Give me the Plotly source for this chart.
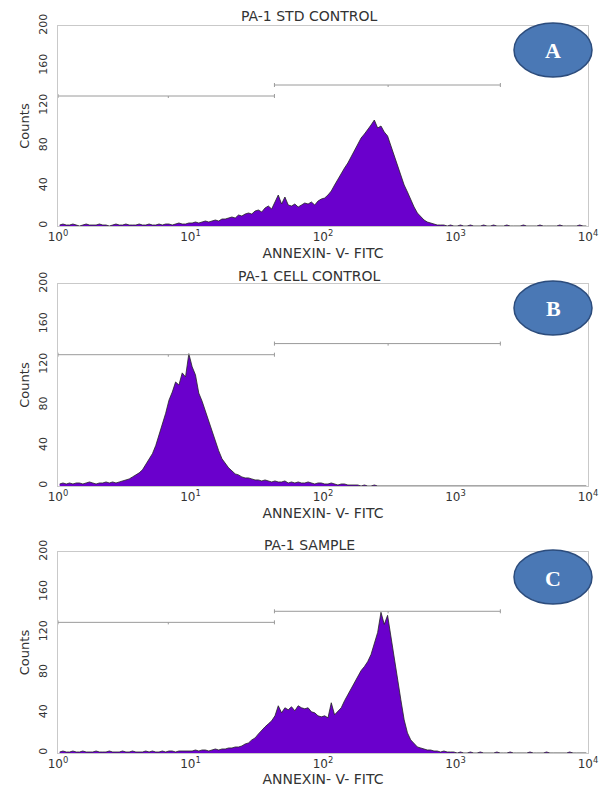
import plotly.graph_objects as go

# ---------------- data ----------------
BIN_WIDTH_DECADES = 0.025          # histogram channel width in log10 units
N_BINS = 160                        # 10^0 .. 10^4

panel_titles = ["PA-1 STD CONTROL", "PA-1 CELL CONTROL", "PA-1 SAMPLE"]
panel_letters = ["A", "B", "C"]
x_label = "ANNEXIN- V- FITC"
y_label = "Counts"

counts_std_control = [
    1, 2, 1, 1, 2, 1, 0, 1, 2, 1, 1, 1, 2, 1, 1, 0, 1, 2, 1, 1,
    2, 1, 1, 1, 2, 1, 1, 2, 1, 1, 2, 1, 2, 2, 1, 2, 3, 2, 2, 3,
    3, 4, 3, 4, 5, 4, 5, 6, 5, 7,
    7, 8, 9, 8, 11, 10, 12, 13, 12, 15,
    16, 14, 18, 20, 17, 24, 31, 22, 29, 21,
    20, 22, 19, 21, 23, 22, 24, 21, 25, 27,
    28, 31, 35, 41, 47, 52, 58, 63, 69, 75,
    82, 88, 92, 96, 101, 106, 98, 100, 94, 90,
    80, 72, 61, 52, 41, 34, 26, 19, 13, 9,
    6, 4, 3, 2, 1, 1, 1, 0, 1, 0,
    0, 1, 0, 0, 1, 0, 0, 0, 1, 0, 0, 1, 0, 0, 0, 1, 0, 0, 0, 0,
    1, 0, 0, 0, 0, 1, 0, 0, 0, 0, 0, 1, 0, 0, 0, 0, 0, 1, 0, 0,
]

counts_cell_control = [
    2, 3, 2, 3, 2, 3, 3, 2, 3, 4, 3, 2, 3, 3, 4, 3, 4, 3, 4, 5,
    6, 7, 9, 11, 13, 16, 21, 26, 32, 40,
    50, 60, 72, 85, 93, 103, 100, 112, 108, 131,
    118, 110, 92, 84, 74, 64, 55, 44, 35, 27,
    22, 18, 15, 12, 11, 9, 8, 8, 7, 6,
    6, 5, 6, 5, 4, 5, 4, 4, 5, 3,
    4, 3, 4, 3, 3, 4, 3, 2, 3, 3, 2, 2, 3, 2, 1, 2, 2, 1, 1, 1,
    1, 0, 1, 0, 0, 1, 0, 0, 0, 0, 0, 0, 0, 0, 0, 0, 0, 0, 0, 0,
    0, 0, 0, 0, 0, 0, 0, 0, 0, 0, 0, 0, 0, 0, 0, 0, 0, 0, 0, 0,
    0, 0, 0, 0, 0, 0, 0, 0, 0, 0, 0, 0, 0, 0, 0, 0, 0, 0, 0, 0,
    0, 0, 0, 0, 0, 0, 0, 0, 0, 0,
]

counts_sample = [
    1, 2, 1, 1, 2, 1, 1, 2, 1, 1, 1, 2, 1, 1, 1, 2, 1, 1, 1, 2,
    1, 1, 2, 1, 1, 1, 2, 1, 2, 1, 1, 2, 1, 2, 2, 1, 2, 2, 2, 2,
    2, 3, 2, 3, 3, 2, 3, 4, 3, 4,
    4, 5, 5, 6, 6, 7, 9, 10, 13, 15,
    19, 22, 26, 29, 32, 37, 47, 40, 45, 43,
    46, 42, 47, 45, 44, 45, 41, 40, 37, 36,
    37, 35, 50, 38, 42, 45, 52, 58, 65, 70,
    76, 82, 86, 91, 98, 108, 120, 140, 128, 137,
    115, 95, 75, 53, 33, 20, 13, 9, 6, 5,
    4, 3, 3, 2, 2, 1, 2, 1, 1, 1,
    0, 1, 0, 0, 1, 0, 0, 1, 0, 0, 0, 0, 1, 0, 0, 0, 1, 0, 0, 0,
    0, 0, 1, 0, 0, 0, 0, 1, 0, 0, 0, 0, 0, 0, 1, 0, 0, 0, 0, 0,
]

panel_counts = [counts_std_control, counts_cell_control, counts_sample]

# marker gates (fluorescence bounds, count level)
gate_left = [1, 43]
gate_left_mid = 6.8
gate_left_level = 130
gate_right = [43, 2180]
gate_right_mid = 310
gate_right_level = 141

y_ticks = [0, 40, 80, 120, 160, 200]
x_tickvals = [1, 10, 100, 1000, 10000]
x_ticktext = ["10<sup>0</sup>", "10<sup>1</sup>", "10<sup>2</sup>", "10<sup>3</sup>", "10<sup>4</sup>"]

# ---------------- layout geometry ----------------
W, H = 610, 787
PX_L, PX_R = 58, 588
panel_px = [(26, 226), (284, 486), (552, 753)]   # top, bottom pixel rows
title_px = [16, 276, 545]
badge_px = [50, 308, 577]

def py(v):
    return 1 - v / H

FILL = "#6a00cc"
EDGE = "rgba(35,35,35,0.8)"
TEXT = "#333333"
FRAME = "#c9c9c9"
GATE = "#9a9a9a"
FONT = "DejaVu Sans"

centers = [10 ** ((i + 0.5) * BIN_WIDTH_DECADES) for i in range(N_BINS)]

fig = go.Figure()

for k, counts in enumerate(panel_counts):
    n = k + 1
    xa = "x" if n == 1 else f"x{n}"
    ya = "y" if n == 1 else f"y{n}"
    fig.add_trace(go.Scatter(
        x=centers, y=counts, mode="lines", line=dict(color=EDGE, width=1),
        fill="tozeroy", fillcolor=FILL, xaxis=xa, yaxis=ya, showlegend=False,
        hoverinfo="skip"))
    # gates
    for (g, mid, lev) in [(gate_left, gate_left_mid, gate_left_level),
                          (gate_right, gate_right_mid, gate_right_level)]:
        gx = [g[0], g[1], None, g[0], g[0], None, g[1], g[1], None, mid, mid]
        gy = [lev, lev, None, lev - 2, lev + 2, None, lev - 2, lev + 2, None, lev, lev - 2]
        fig.add_trace(go.Scatter(x=gx, y=gy, mode="lines",
                                 line=dict(color=GATE, width=1),
                                 xaxis=xa, yaxis=ya, showlegend=False, hoverinfo="skip"))

    top, bot = panel_px[k]
    xkey = "xaxis" if n == 1 else f"xaxis{n}"
    ykey = "yaxis" if n == 1 else f"yaxis{n}"
    fig.update_layout(**{
        xkey: dict(domain=[PX_L / W, PX_R / W], anchor=ya, type="log", range=[0, 4],
                   tickvals=x_tickvals, ticktext=x_ticktext, showgrid=False,
                   zeroline=False, showline=True, mirror=True, linecolor=FRAME,
                   linewidth=1, ticks="", automargin=False,
                   tickfont=dict(family=FONT, size=12, color=TEXT),
                   title=dict(text=x_label, standoff=4,
                              font=dict(family=FONT, size=14, color=TEXT))),
        ykey: dict(domain=[py(bot), py(top)], anchor=xa, range=[0, 200],
                   tickvals=y_ticks, showgrid=False, zeroline=False, showline=True,
                   mirror=True, linecolor=FRAME, linewidth=1, ticks="",
                   tickangle=-90, ticklabelstandoff=6, automargin=False,
                   tickfont=dict(family=FONT, size=11, color=TEXT),
                   title=dict(text=y_label, standoff=4,
                              font=dict(family=FONT, size=13, color=TEXT))),
    })

    fig.add_annotation(xref="paper", yref="paper", x=309 / W, y=py(title_px[k]),
                       text=panel_titles[k], showarrow=False,
                       font=dict(family=FONT, size=14, color=TEXT),
                       xanchor="center", yanchor="middle")

    cy = badge_px[k]
    fig.add_shape(type="circle", xref="paper", yref="paper",
                  x0=514 / W, x1=592 / W, y0=py(cy + 27), y1=py(cy - 27),
                  fillcolor="#4a78b5", line=dict(color="#2c4c7c", width=1.5))
    fig.add_annotation(xref="paper", yref="paper", x=553 / W, y=py(cy + 1),
                       text="<b>" + panel_letters[k] + "</b>", showarrow=False,
                       font=dict(family="Liberation Serif", size=22, color="white"),
                       xanchor="center", yanchor="middle")

fig.update_layout(width=W, height=H, margin=dict(l=0, r=0, t=0, b=0),
                  paper_bgcolor="white", plot_bgcolor="white", showlegend=False)

fig.write_html("out.html")
